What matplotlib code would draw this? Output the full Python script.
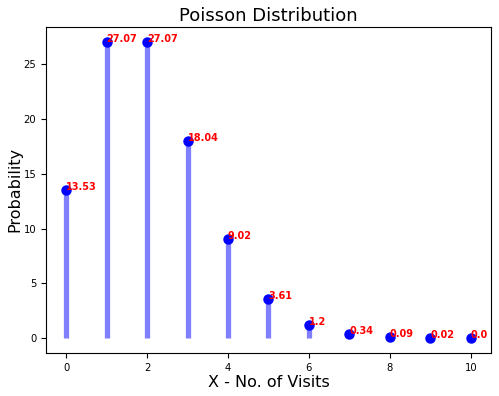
import matplotlib
matplotlib.use('Agg')
import matplotlib.pyplot as plt

# Poisson probabilities (in %)
visits = [0, 1, 2, 3, 4, 5, 6, 7, 8, 9, 10]
probs = [13.53, 27.07, 27.07, 18.04, 9.02, 3.61, 1.2, 0.34, 0.09, 0.02, 0.0]

fig = plt.figure(figsize=(4.99, 3.96), dpi=100)
ax = fig.add_axes([0.092, 0.109, 0.892, 0.823])

ax.vlines(visits, 0, probs, colors='blue', alpha=0.5, linewidth=3.8)
ax.plot(visits, probs, 'o', color='blue', markersize=6.5)

for x, y in zip(visits, probs):
    ax.text(x, y, str(y), color='red', fontsize=7, fontweight='bold')

ax.set_title('Poisson Distribution', fontsize=13, pad=4)
ax.set_xlabel('X - No. of Visits', fontsize=11.5, labelpad=2)
ax.set_ylabel('Probability', fontsize=11.5, labelpad=1)
ax.tick_params(labelsize=7.2)

plt.savefig('out.png', dpi=100)
